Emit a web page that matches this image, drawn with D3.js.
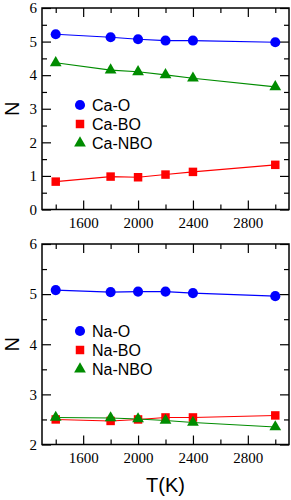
<!DOCTYPE html>
<html lang="en">
<head>
  <meta charset="UTF-8">
  <title>Coordination numbers vs T</title>
  <script src="https://d3js.org/d3.v7.min.js"></script>
  <style>
    body { margin: 0; background: #fff; }
    .lab { font-family: "Liberation Sans", Arial, sans-serif; fill: #000; }
  </style>
</head>
<body>

<svg id="chart" width="291" height="500"></svg>

<script>
  // temperatures (K)
  var temps = [1400, 1800, 2000, 2200, 2400, 3000];

  // top panel: Ca
  var caO   = [5.22, 5.13, 5.07, 5.03, 5.03, 4.98];
  var caBO  = [0.83, 0.98, 0.96, 1.04, 1.12, 1.33];
  var caNBO = [4.37, 4.15, 4.10, 4.01, 3.91, 3.65];

  // bottom panel: Na
  var naO   = [5.08, 5.04, 5.05, 5.05, 5.02, 4.96];
  var naBO  = [2.50, 2.47, 2.50, 2.54, 2.54, 2.58];
  var naNBO = [2.54, 2.53, 2.51, 2.48, 2.44, 2.35];

  var xTicks = [1600, 2000, 2400, 2800];
  var xMinor = [1400, 1800, 2200, 2600, 3000];

  var svg = d3.select('#chart');
  var left = 42, right = 289;
  var x = d3.scaleLinear().domain([1300, 3100]).range([left, right]);

  var blue = '#0000ff', red = '#ff0000', green = '#008c00';

  function panel(top, bottom, yDomain, series, legendY) {
    var y = d3.scaleLinear().domain(yDomain).range([bottom, top]);
    var g = svg.append('g');

    var yMajor = d3.range(yDomain[0], yDomain[1] + 0.01, 1);
    var yMinor = d3.range(yDomain[0] + 0.5, yDomain[1], 1);

    // bottom axis with labels
    g.append('g').attr('transform', 'translate(0,' + bottom + ')')
      .call(d3.axisBottom(x).tickValues(xTicks).tickSize(-9).tickPadding(8).tickFormat(d3.format('d')));
    g.append('g').attr('transform', 'translate(0,' + bottom + ')')
      .call(d3.axisBottom(x).tickValues(xMinor).tickSize(-5).tickFormat(''));
    // top mirrored
    g.append('g').attr('transform', 'translate(0,' + top + ')')
      .call(d3.axisTop(x).tickValues(xTicks).tickSize(-9).tickFormat(''));
    g.append('g').attr('transform', 'translate(0,' + top + ')')
      .call(d3.axisTop(x).tickValues(xMinor).tickSize(-5).tickFormat(''));
    // left axis with labels
    g.append('g').attr('transform', 'translate(' + left + ',0)')
      .call(d3.axisLeft(y).tickValues(yMajor).tickSize(-9).tickPadding(5).tickFormat(d3.format('d')));
    g.append('g').attr('transform', 'translate(' + left + ',0)')
      .call(d3.axisLeft(y).tickValues(yMinor).tickSize(-5).tickFormat(''));
    // right mirrored
    g.append('g').attr('transform', 'translate(' + right + ',0)')
      .call(d3.axisRight(y).tickValues(yMajor).tickSize(-9).tickFormat(''));
    g.append('g').attr('transform', 'translate(' + right + ',0)')
      .call(d3.axisRight(y).tickValues(yMinor).tickSize(-5).tickFormat(''));

    g.selectAll('.domain').remove();
    g.selectAll('.tick line').attr('stroke', '#000').attr('stroke-width', 1.2);
    g.selectAll('.tick text')
      .style('font-family', '"Liberation Serif", "Times New Roman", serif')
      .style('font-size', '15px')
      .attr('fill', '#000');

    g.append('rect')
      .attr('x', left).attr('y', top)
      .attr('width', right - left).attr('height', bottom - top)
      .attr('fill', 'none').attr('stroke', '#000').attr('stroke-width', 1.5);

    var line = d3.line().x(function (d, i) { return x(temps[i]); }).y(function (d) { return y(d); });

    series.forEach(function (s) {
      g.append('path').datum(s.values)
        .attr('d', line).attr('fill', 'none')
        .attr('stroke', s.color).attr('stroke-width', 1.1);
    });
    series.forEach(function (s) {
      g.selectAll(null).data(s.values).enter().append('path')
        .attr('transform', function (d, i) { return 'translate(' + x(temps[i]) + ',' + y(d) + ')'; })
        .attr('d', d3.symbol().type(s.shape).size(s.size))
        .attr('fill', s.color);
    });

    // legend
    series.forEach(function (s, i) {
      var ly = legendY + i * 19;
      g.append('path')
        .attr('transform', 'translate(80,' + ly + ')')
        .attr('d', d3.symbol().type(s.shape).size(s.size))
        .attr('fill', s.color);
      g.append('text').attr('class', 'lab')
        .attr('x', 92).attr('y', ly + 6)
        .style('font-size', '16px')
        .text(s.name);
    });

    // y label
    svg.append('text').attr('class', 'lab')
      .attr('transform', 'translate(19,' + ((top + bottom) / 2) + ') rotate(-90)')
      .attr('text-anchor', 'middle')
      .style('font-size', '20px')
      .text('N');
  }

  panel(8, 209.5, [0, 6], [
    { name: 'Ca-O', values: caO, color: blue, shape: d3.symbolCircle, size: 80 },
    { name: 'Ca-BO', values: caBO, color: red, shape: d3.symbolSquare, size: 72 },
    { name: 'Ca-NBO', values: caNBO, color: green, shape: d3.symbolTriangle, size: 60 }
  ], 105);

  panel(244, 444.5, [2, 6], [
    { name: 'Na-O', values: naO, color: blue, shape: d3.symbolCircle, size: 80 },
    { name: 'Na-BO', values: naBO, color: red, shape: d3.symbolSquare, size: 72 },
    { name: 'Na-NBO', values: naNBO, color: green, shape: d3.symbolTriangle, size: 60 }
  ], 331);

  svg.append('text').attr('class', 'lab')
    .attr('x', (left + right) / 2).attr('y', 492)
    .attr('text-anchor', 'middle')
    .style('font-size', '20px')
    .text('T(K)');
</script>

</body>
</html>
